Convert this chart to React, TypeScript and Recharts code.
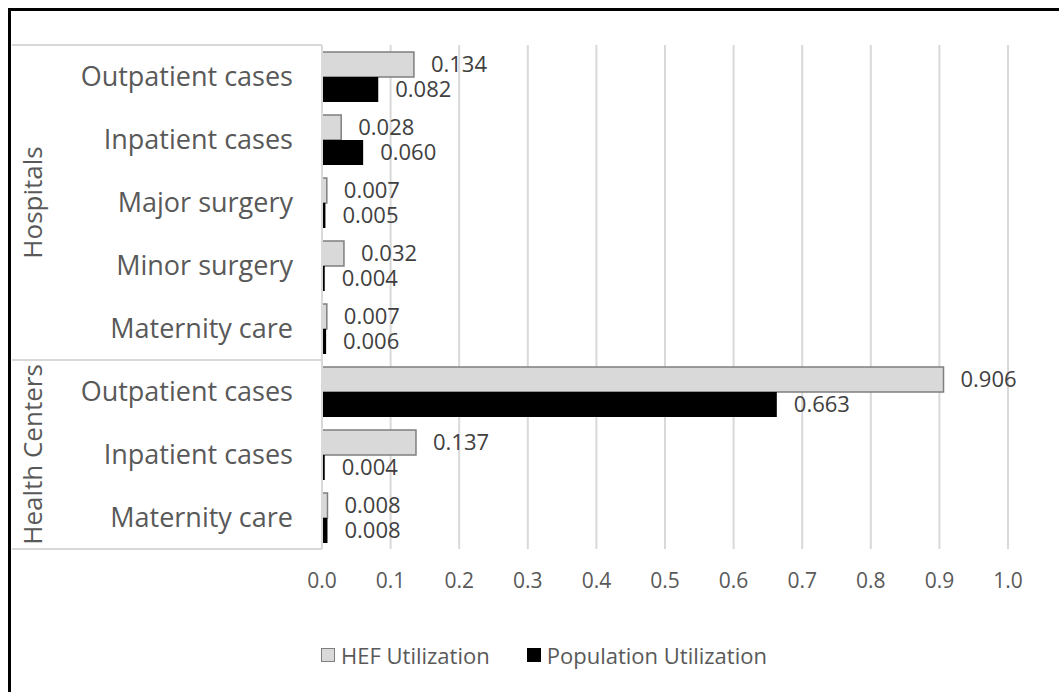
import { BarChart, Bar, XAxis, YAxis, CartesianGrid, Legend, LabelList } from 'recharts'

const CHART_W = 1059
const CHART_H = 692
const MARGIN = { top: 45, right: 51, bottom: 22, left: 12 }
const YAXIS_W = 310
const XAXIS_H = 91
const LEGEND_H = 30
const TICK_GAP = 29
const FONT = '"Open Sans", "Noto Sans", sans-serif'
const TEXT = '#595959'
const GRID = '#d9d9d9'

const categories = [
  'Outpatient cases', 'Inpatient cases', 'Major surgery', 'Minor surgery', 'Maternity care',
  'Outpatient cases', 'Inpatient cases', 'Maternity care',
]
const groups = [
  { name: 'Hospitals', size: 5 },
  { name: 'Health Centers', size: 3 },
]
const hefUtilization = [0.134, 0.028, 0.007, 0.032, 0.007, 0.906, 0.137, 0.008]
const populationUtilization = [0.082, 0.06, 0.005, 0.004, 0.006, 0.663, 0.004, 0.008]
const xTicks = [0, 0.1, 0.2, 0.3, 0.4, 0.5, 0.6, 0.7, 0.8, 0.9, 1.0]

const data = categories.map((c, i) => ({
  id: `row-${i}`,
  name: c,
  hef: hefUtilization[i],
  pop: populationUtilization[i],
}))

const PLOT_H = CHART_H - MARGIN.top - MARGIN.bottom - XAXIS_H - LEGEND_H
const ROW_H = PLOT_H / data.length

// first row index of each group -> group
const groupStarts: Record<number, { name: string; size: number }> = {}
let acc = 0
for (const g of groups) {
  groupStarts[acc] = g
  acc += g.size
}

function CategoryTick(props: any) {
  const { x, y, payload } = props
  const i: number = payload.index ?? props.index
  const half = ROW_H / 2
  const axisX = x + TICK_GAP
  const leftX = axisX - YAXIS_W
  const g = groupStarts[i]
  const top = y - half
  const gx = leftX + 21
  const gy = g ? top + (g.size * ROW_H) / 2 : 0
  return (
    <g>
      <text x={x} y={y} dy="0.35em" textAnchor="end" fill={TEXT} fontSize={27} fontFamily={FONT}>
        {categories[i]}
      </text>
      {g && (
        <>
          <line x1={leftX} x2={axisX} y1={top} y2={top} stroke={GRID} strokeWidth={2} />
          <text
            x={gx}
            y={gy}
            dy="0.35em"
            textAnchor="middle"
            fill={TEXT}
            fontSize={26}
            fontFamily={FONT}
            transform={`rotate(-90, ${gx}, ${gy})`}
          >
            {g.name}
          </text>
        </>
      )}
      {i === data.length - 1 && (
        <line x1={leftX} x2={axisX} y1={y + half} y2={y + half} stroke={GRID} strokeWidth={2} />
      )}
    </g>
  )
}

function LegendContent() {
  const items = [
    { label: 'HEF Utilization', fill: '#d9d9d9', stroke: '#7f7f7f' },
    { label: 'Population Utilization', fill: '#000', stroke: '#000' },
  ]
  return (
    <div style={{ display: 'flex', alignItems: 'center', height: LEGEND_H, fontFamily: FONT, fontSize: 22, color: TEXT }}>
      {items.map((it, i) => (
        <div key={it.label} style={{ display: 'flex', alignItems: 'center', marginLeft: i ? 37 : 0 }}>
          <span
            style={{
              display: 'inline-block', width: 12, height: 12, background: it.fill,
              border: `1.5px solid ${it.stroke}`, marginRight: 6,
            }}
          />
          <span style={{ whiteSpace: 'nowrap' }}>{it.label}</span>
        </div>
      ))}
    </div>
  )
}

export default function App() {
  return (
    <div style={{ position: 'absolute', left: 0, top: 0, width: CHART_W, height: CHART_H, overflow: 'hidden', background: '#fff' }}>
      <div
        style={{
          position: 'absolute', left: 8, top: 8, width: CHART_W, height: CHART_H,
          borderTop: '3px solid #000', borderLeft: '3px solid #000',
        }}
      />
      <div style={{ position: 'absolute', left: 0, top: 0 }}>
        <BarChart
          width={CHART_W}
          height={CHART_H}
          data={data}
          layout="vertical"
          margin={MARGIN}
          barGap={0}
          barSize={25}
          style={{ fontFamily: FONT }}
        >
          <CartesianGrid horizontal={false} stroke={GRID} strokeWidth={2} />
          <XAxis
            type="number"
            domain={[0, 1]}
            ticks={xTicks}
            interval={0}
            height={XAXIS_H}
            axisLine={false}
            tickLine={false}
            tickSize={0}
            tickMargin={24}
            tick={{ fill: TEXT, fontSize: 21, fontFamily: FONT }}
            tickFormatter={(v: number) => v.toFixed(1)}
          />
          <YAxis
            type="category"
            dataKey="id"
            width={YAXIS_W}
            axisLine={{ stroke: GRID, strokeWidth: 2 }}
            tickLine={false}
            tickSize={0}
            tickMargin={TICK_GAP}
            interval={0}
            tick={CategoryTick}
          />
          <Legend
            verticalAlign="bottom"
            content={LegendContent}
            wrapperStyle={{ left: 321, bottom: MARGIN.bottom, width: 520, height: LEGEND_H }}
          />
          <Bar dataKey="hef" name="HEF Utilization" fill="#d9d9d9" stroke="#7f7f7f" strokeWidth={1.5} isAnimationActive={false}>
            <LabelList
              dataKey="hef"
              position="right"
              offset={17}
              fill="#404040"
              fontSize={22}
              fontFamily={FONT}
              formatter={(v: any) => Number(v).toFixed(3)}
            />
          </Bar>
          <Bar dataKey="pop" name="Population Utilization" fill="#000" isAnimationActive={false}>
            <LabelList
              dataKey="pop"
              position="right"
              offset={17}
              fill="#404040"
              fontSize={22}
              fontFamily={FONT}
              formatter={(v: any) => Number(v).toFixed(3)}
            />
          </Bar>
        </BarChart>
      </div>
    </div>
  )
}
